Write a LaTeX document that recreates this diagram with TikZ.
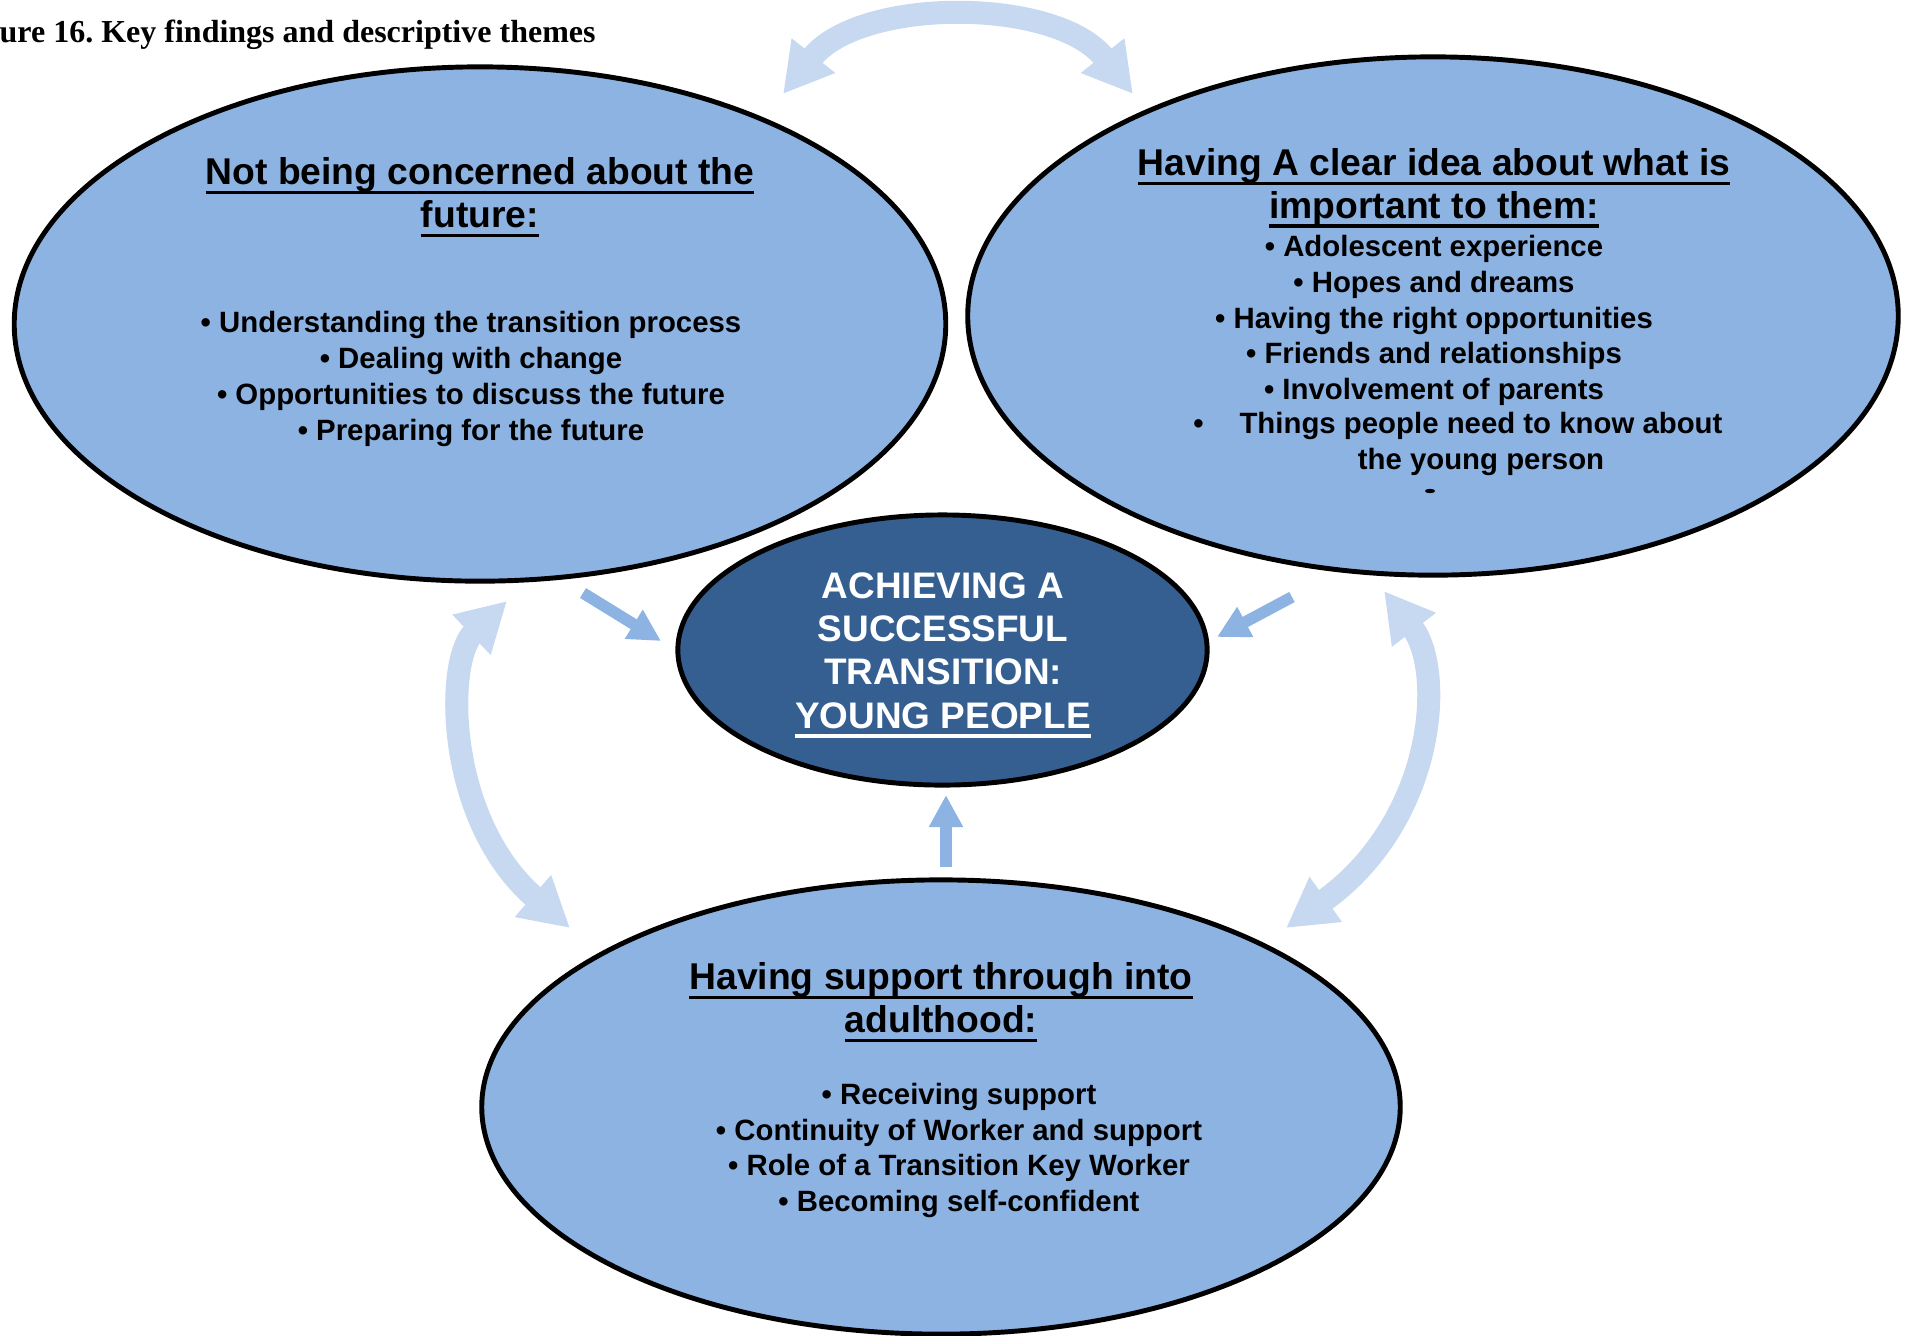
\documentclass[tikz,border=0pt]{standalone}
\usepackage{fontspec}
\setmainfont{Liberation Sans}
\newfontfamily\serifhead{Liberation Serif}
\usepackage{tikz}
\usetikzlibrary{arrows.meta, shapes.geometric}
\definecolor{themefill}{HTML}{8DB3E2}
\definecolor{corefill}{HTML}{365F91}
\definecolor{linkblue}{HTML}{C6D9F1}
\definecolor{feedblue}{HTML}{8DB3E2}
\newcommand{\undl}[1]{\setbox0\hbox{#1}\rlap{\smash{\rule[-2.7pt]{\wd0}{0.9pt}}}\box0}

\begin{document}
\begin{tikzpicture}[
    x=0.01cm, y=-0.01cm,
    >=Triangle,
    theme/.style={ellipse, draw, line width=1.4pt, fill=themefill, inner sep=0pt},
    core/.style={theme, fill=corefill},
    headtxt/.style={font=\fontsize{10.6}{12.2}\selectfont\bfseries, align=center, inner sep=0pt},
    listtxt/.style={font=\fontsize{8.35}{10.2}\selectfont\bfseries, align=center, inner sep=0pt},
    coretxt/.style={headtxt, font=\fontsize{10.5}{12.3}\selectfont\bfseries, text=white},
    link/.style={<->, >={Triangle[width=5.2mm, length=4.9mm]}, line width=2.3mm, draw=linkblue},
    feed/.style={->, >={Triangle[width=3.2mm, length=3.2mm]}, line width=1.15mm, draw=feedblue},
]
\useasboundingbox (0,0) rectangle (1908,1335);
\node[font=\serifhead\fontsize{9.1}{10}\selectfont\bfseries, anchor=base west, inner sep=0pt] (title) at (-1,42) {ure 16.\ Key findings and descriptive themes};
% ----- the three themes and the outcome in the middle
\node[theme, minimum width=9.31cm, minimum height=5.14cm] (future) at (480,324) {};
\node[theme, minimum width=9.30cm, minimum height=5.18cm] (important) at (1433,316) {};
\node[theme, minimum width=9.18cm, minimum height=4.54cm] (support) at (941,1107) {};
\node[core, minimum width=5.29cm, minimum height=2.70cm] (core) at (942.5,650) {};
% ----- texts inside the ellipses
\node[headtxt] (futurehead) at (480,193) {\undl{Not being concerned about the}\\\undl{future:}};
\node[listtxt] (futurelist) at (471,379) {\textbullet\ Understanding the transition process\\\textbullet\ Dealing with change\\\textbullet\ Opportunities to discuss the future\\\textbullet\ Preparing for the future};
\node[headtxt] (importanthead) at (1434,187) {\undl{Having A clear idea about what is}\\\undl{important to them:}};
\node[listtxt] (importantlist) at (1434,320.5) {\textbullet\ Adolescent experience\\\textbullet\ Hopes and dreams\\\textbullet\ Having the right opportunities\\\textbullet\ Friends and relationships\\\textbullet\ Involvement of parents};
\node[listtxt] (things) at (1481,444) {\llap{\textbullet\hspace{0.36cm}}Things people need to know about\\the young person};
\fill (1430,491) ellipse [x radius=5, y radius=2.2];
\node[coretxt] (coretext) at (943,650.4) {ACHIEVING A\\SUCCESSFUL\\TRANSITION:\\\undl{YOUNG PEOPLE}};
\node[headtxt] (supporthead) at (941,998) {\undl{Having support through into}\\\undl{adulthood:}};
\node[listtxt] (supportlist) at (959,1150.5) {\textbullet\ Receiving support\\\textbullet\ Continuity of Worker and support\\\textbullet\ Role of a Transition Key Worker\\\textbullet\ Becoming self-confident};
% ----- curved two-way links between the themes
\coordinate (topL) at (783,94);
\coordinate (topR) at (1133,94);
\coordinate (lfU) at (507,601);
\coordinate (lfD) at (570,928);
\coordinate (rtU) at (1384,591);
\coordinate (rtD) at (1286,928);
\draw[link] (topL) .. controls (860,-3) and (1056,-3) .. (topR);
\draw[link] (lfU) .. controls (445,660) and (445,820) .. (lfD);
\draw[link] (rtU) .. controls (1445,670) and (1436,820) .. (rtD);
% ----- each theme feeds the outcome
\coordinate (fdL) at (583,593);
\coordinate (fdLt) at (661,641);
\coordinate (fdR) at (1292,597);
\coordinate (fdRt) at (1217,637);
\coordinate (fdB) at (946,867);
\coordinate (fdBt) at (946,795);
\draw[feed] (fdL) -- (fdLt);
\draw[feed] (fdR) -- (fdRt);
\draw[feed] (fdB) -- (fdBt);
\end{tikzpicture}
\end{document}
